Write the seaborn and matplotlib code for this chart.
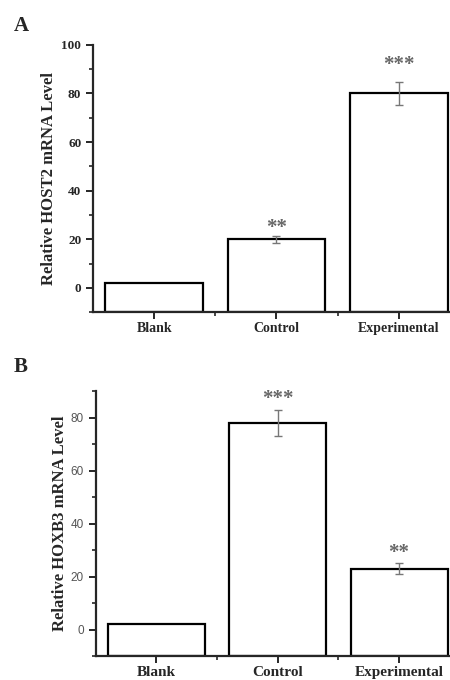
import numpy as np
import pandas as pd
import matplotlib
matplotlib.use('Agg')
import matplotlib.pyplot as plt
from matplotlib.ticker import MultipleLocator, FixedLocator
import seaborn as sns

# data
groups = ['Blank', 'Control', 'Experimental']
host2_mean = [2, 20, 80]
host2_err = [0, 1.5, 4.8]
host2_stars = ['', '**', '***']
hoxb3_mean = [2, 78, 23]
hoxb3_err = [0, 5, 2]
hoxb3_stars = ['', '***', '**']

sns.set_style('ticks')
plt.rcParams['font.family'] = ['Liberation Serif', 'DejaVu Serif']

fig = plt.figure(figsize=(4.5, 6.8), dpi=100)
ax_a = fig.add_axes([0.207, 0.541, 0.793, 0.393])
ax_b = fig.add_axes([0.213, 0.035, 0.787, 0.390])


def draw_panel(ax, mean, err, stars, ylabel, ylim, star_pad, tick_font, xlab_size, lpad):
    df = pd.DataFrame({'group': groups, 'level': mean})
    sns.barplot(data=df, x='group', y='level', ax=ax, color='white',
                edgecolor='black', linewidth=1.6, width=0.8)
    # bars in the original are drawn up from the bottom of the axis
    for p in ax.patches:
        top = p.get_y() + p.get_height()
        p.set_y(ylim[0])
        p.set_height(top - ylim[0])
    pos = np.arange(len(groups))
    has_err = np.array(err) > 0
    ax.errorbar(pos[has_err], np.array(mean)[has_err], yerr=np.array(err)[has_err],
                fmt='none', ecolor='#777777', elinewidth=1, capsize=3, capthick=1)
    for x, m, e, s, p in zip(pos, mean, err, stars, star_pad):
        if s:
            ax.text(x, m + e + p, s, ha='center', va='center', fontsize=15,
                    color='#666666', fontweight='bold')
    ax.set_ylim(*ylim)
    ax.set_xlim(-0.5, 2.42)
    ax.yaxis.set_major_locator(MultipleLocator(20))
    ax.yaxis.set_minor_locator(MultipleLocator(10))
    ax.xaxis.set_minor_locator(FixedLocator([0.5, 1.5]))
    ax.set_xlabel('')
    ax.set_ylabel(ylabel, fontsize=12, fontweight='bold', labelpad=lpad)
    for sp in ['top', 'right']:
        ax.spines[sp].set_visible(False)
    for sp in ['left', 'bottom']:
        ax.spines[sp].set_linewidth(1.6)
    ax.tick_params(axis='both', which='major', length=5, width=1.4, direction='out')
    ax.tick_params(axis='both', which='minor', length=3, width=1.2, direction='out')
    ax.tick_params(axis='x', labelsize=xlab_size, pad=2)
    for lab in ax.get_xticklabels():
        lab.set_fontweight('bold')
    for lab in ax.get_yticklabels():
        lab.set_fontproperties(tick_font)
    return ax


serif_font = matplotlib.font_manager.FontProperties(family='Liberation Serif', weight='bold', size=9.5)
sans_font = matplotlib.font_manager.FontProperties(family='Liberation Sans', size=8.5)

draw_panel(ax_a, host2_mean, host2_err, host2_stars, 'Relative HOST2 mRNA Level',
           (-10, 100), [0, 3, 7], serif_font, 10, 3)
draw_panel(ax_b, hoxb3_mean, hoxb3_err, hoxb3_stars, 'Relative HOXB3 mRNA Level',
           (-10, 90), [0, 4, 4], sans_font, 11, 2)
for lab in ax_b.get_yticklabels():
    lab.set_color('#555555')

fig.text(0.03, 0.962, 'A', fontsize=15, fontweight='bold', va='center')
fig.text(0.03, 0.46, 'B', fontsize=15, fontweight='bold', va='center')

fig.savefig('out.png', dpi=100)
